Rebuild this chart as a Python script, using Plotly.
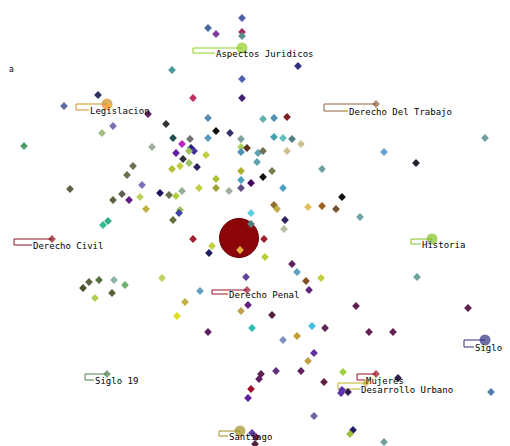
import plotly.graph_objects as go

# ---- small nodes (pixel-space coordinates) ----
node_x = [242, 208, 216, 242, 242, 172, 242, 193, 242, 98, 64, 148, 113, 166, 208, 216, 230, 102, 208, 173,
          190, 241, 24, 152, 182, 191, 194, 241, 247, 298, 263, 274, 287, 274, 283, 292, 301, 485, 176, 189,
          206, 241, 183, 172, 180, 189, 197, 133, 127, 142, 70, 122, 113, 129, 140, 146, 160, 169, 176, 182,
          199, 216, 216, 229, 241, 241, 241, 251, 180, 179, 173, 103, 108, 193, 212, 209, 246, 200, 83, 89,
          99, 114, 125, 162, 95, 112, 258, 263, 287, 384, 416, 257, 272, 263, 322, 283, 342, 274, 277, 308,
          322, 336, 360, 285, 284, 251, 251, 264, 265, 292, 297, 306, 321, 309, 417, 185, 177, 208, 248, 241,
          252, 272, 276, 261, 259, 251, 248, 252, 256, 255, 356, 312, 325, 297, 283, 369, 393, 468, 314, 308,
          301, 343, 324, 398, 341, 342, 348, 491, 314, 353, 350, 384, 240]
node_y = [18, 28, 34, 32, 36, 70, 79, 98, 98, 95, 106, 114, 126, 124, 118, 131, 133, 133, 138, 138,
          139, 139, 146, 147, 144, 148, 151, 147, 148, 66, 119, 118, 117, 137, 138, 139, 144, 138, 153, 151,
          155, 152, 159, 169, 166, 163, 167, 166, 175, 185, 189, 194, 200, 200, 197, 209, 193, 195, 196, 191,
          188, 179, 188, 191, 171, 180, 188, 183, 210, 213, 220, 225, 221, 239, 246, 253, 277, 291, 288, 282,
          280, 280, 285, 278, 298, 293, 153, 151, 151, 152, 163, 162, 171, 177, 169, 188, 197, 205, 209, 207,
          206, 209, 217, 220, 229, 213, 224, 239, 257, 264, 272, 281, 278, 290, 277, 302, 316, 332, 305, 311,
          328, 315, 371, 374, 379, 389, 398, 433, 437, 444, 306, 326, 328, 336, 340, 332, 332, 308, 353, 361,
          371, 372, 382, 378, 393, 390, 392, 392, 416, 430, 434, 442, 250]
node_color = ['#5060a8', '#4a6a9a', '#8040a0', '#a03060', '#5a9090', '#4a9a9a', '#5060b0', '#c03060', '#402070', '#303060',
              '#6070a0', '#602060', '#8070b0', '#303030', '#5a8ab0', '#101010', '#303070', '#a0c080', '#5a9ac0', '#205050',
              '#707070', '#80a0a0', '#50a070', '#a0b0a0', '#c020c0', '#202080', '#4030a0', '#b0d060', '#603020', '#303080',
              '#60b0b0', '#5090b0', '#802020', '#40a0b0', '#60c0c0', '#508080', '#d0c090', '#70a0a0', '#6020a0', '#a0c060',
              '#c0d040', '#5090b0', '#303040', '#b0c030', '#c0d040', '#a0c060', '#302060', '#707050', '#707050', '#8070c0',
              '#606040', '#606050', '#606040', '#602080', '#c0d060', '#c0b040', '#201060', '#607050', '#b0d040', '#90b090',
              '#c0d040', '#b0c030', '#a0a030', '#a0b0a0', '#b0b030', '#50a0c0', '#605080', '#400060', '#a0c060', '#4040a0',
              '#607040', '#30c090', '#30b080', '#a02030', '#c0d040', '#202060', '#6040a0', '#60a0c0', '#505030', '#606040',
              '#507040', '#90b0a0', '#70b070', '#c0d060', '#b0d050', '#606040', '#60a0b0', '#707050', '#d0c090', '#60a0d0',
              '#202030', '#60a0b0', '#708050', '#101010', '#70a0a0', '#50a0c0', '#101010', '#907030', '#c0b040', '#e0c060',
              '#a06020', '#705030', '#70a0a0', '#302060', '#b0c0a0', '#60d0e0', '#508080', '#a02030', '#b0d040', '#602060',
              '#60a0c0', '#805020', '#c0d040', '#602080', '#70a0a0', '#c0b040', '#e0e020', '#602060', '#602080', '#c0a050',
              '#30c0b0', '#502040', '#603080', '#602050', '#602060', '#a01030', '#6020a0', '#6040a0', '#602060', '#502040',
              '#602050', '#40c0e0', '#602050', '#c0a030', '#8090c0', '#602050', '#602050', '#602050', '#6030a0', '#c0a040',
              '#602060', '#a0d040', '#602040', '#302050', '#6030b0', '#6030b0', '#302050', '#5080b0', '#7060a0', '#202060',
              '#a0c040', '#70a0a0', '#e0b040']

# ---- central hub ----
hub_x = [239]
hub_y = [238]

# ---- labelled nodes ----
label_text = ['Aspectos Juridicos', 'Legislacion', 'Derecho Del Trabajo', 'Derecho Civil', 'Historia',
              'Derecho Penal', 'Siglo 20', 'Siglo 19', 'Mujeres', 'Desarrollo Urbano', 'Santiago']
label_x = [242, 107, 376, 52, 432, 247, 485, 107, 376, 366, 240]
label_y = [48, 104, 104, 239, 239, 290, 340, 374, 374, 383, 431]
label_left = [193, 76, 324, 14, 411, 212, 464, 85, 357, 338, 219]
label_low = [53, 110, 111, 245, 244, 294, 347, 380, 380, 389, 436]
label_tx = [215, 89, 348, 32, 421, 228, 474, 94, 365, 360, 228]
label_color = ['#90d020', '#d09020', '#906040', '#8b1020', '#80c020', '#a01030',
               '#303080', '#508050', '#a01020', '#c0b020', '#a09020']
label_big = [True, True, False, False, True, False, True, False, False, False, True]

fig = go.Figure()

# hub
fig.add_trace(go.Scatter(x=hub_x, y=hub_y, mode='markers',
                         marker=dict(size=39, color='#8c0508', line=dict(color='#6a0004', width=1)),
                         hoverinfo='skip', showlegend=False))

# brackets
for i in range(len(label_text)):
    fig.add_trace(go.Scatter(
        x=[label_x[i], label_left[i], label_left[i], label_tx[i]],
        y=[label_y[i], label_y[i], label_low[i], label_low[i]],
        mode='lines', line=dict(color=label_color[i], width=1),
        hoverinfo='skip', showlegend=False))

# small nodes
fig.add_trace(go.Scatter(x=node_x, y=node_y, mode='markers',
                         marker=dict(symbol='diamond', size=6, color=node_color, line=dict(width=0)),
                         hoverinfo='skip', showlegend=False))

# labelled node markers
fig.add_trace(go.Scatter(
    x=label_x, y=label_y, mode='markers',
    marker=dict(symbol=['circle' if b else 'diamond' for b in label_big],
                size=[11 if b else 6 for b in label_big],
                color=label_color, line=dict(width=0)),
    hoverinfo='skip', showlegend=False))

for i in range(len(label_text)):
    fig.add_annotation(x=label_tx[i], y=label_low[i] + 1, text=label_text[i],
                       showarrow=False, xanchor='left', yanchor='middle',
                       font=dict(family='DejaVu Sans Mono', size=9, color='#000000'),
                       borderpad=0)

fig.add_annotation(x=11, y=69, text='a', showarrow=False, xanchor='center', yanchor='middle',
                   font=dict(family='DejaVu Sans Mono', size=8, color='#000000'))

# page body has an 8px margin: shrink the figure and offset the ranges so that
# data units equal window pixels
fig.update_layout(
    width=502, height=438,
    margin=dict(l=0, r=0, t=0, b=0),
    paper_bgcolor='white', plot_bgcolor='white',
    xaxis=dict(range=[8, 510], visible=False, fixedrange=True),
    yaxis=dict(range=[446, 8], visible=False, fixedrange=True),
    showlegend=False,
)

fig.write_html("out.html")
